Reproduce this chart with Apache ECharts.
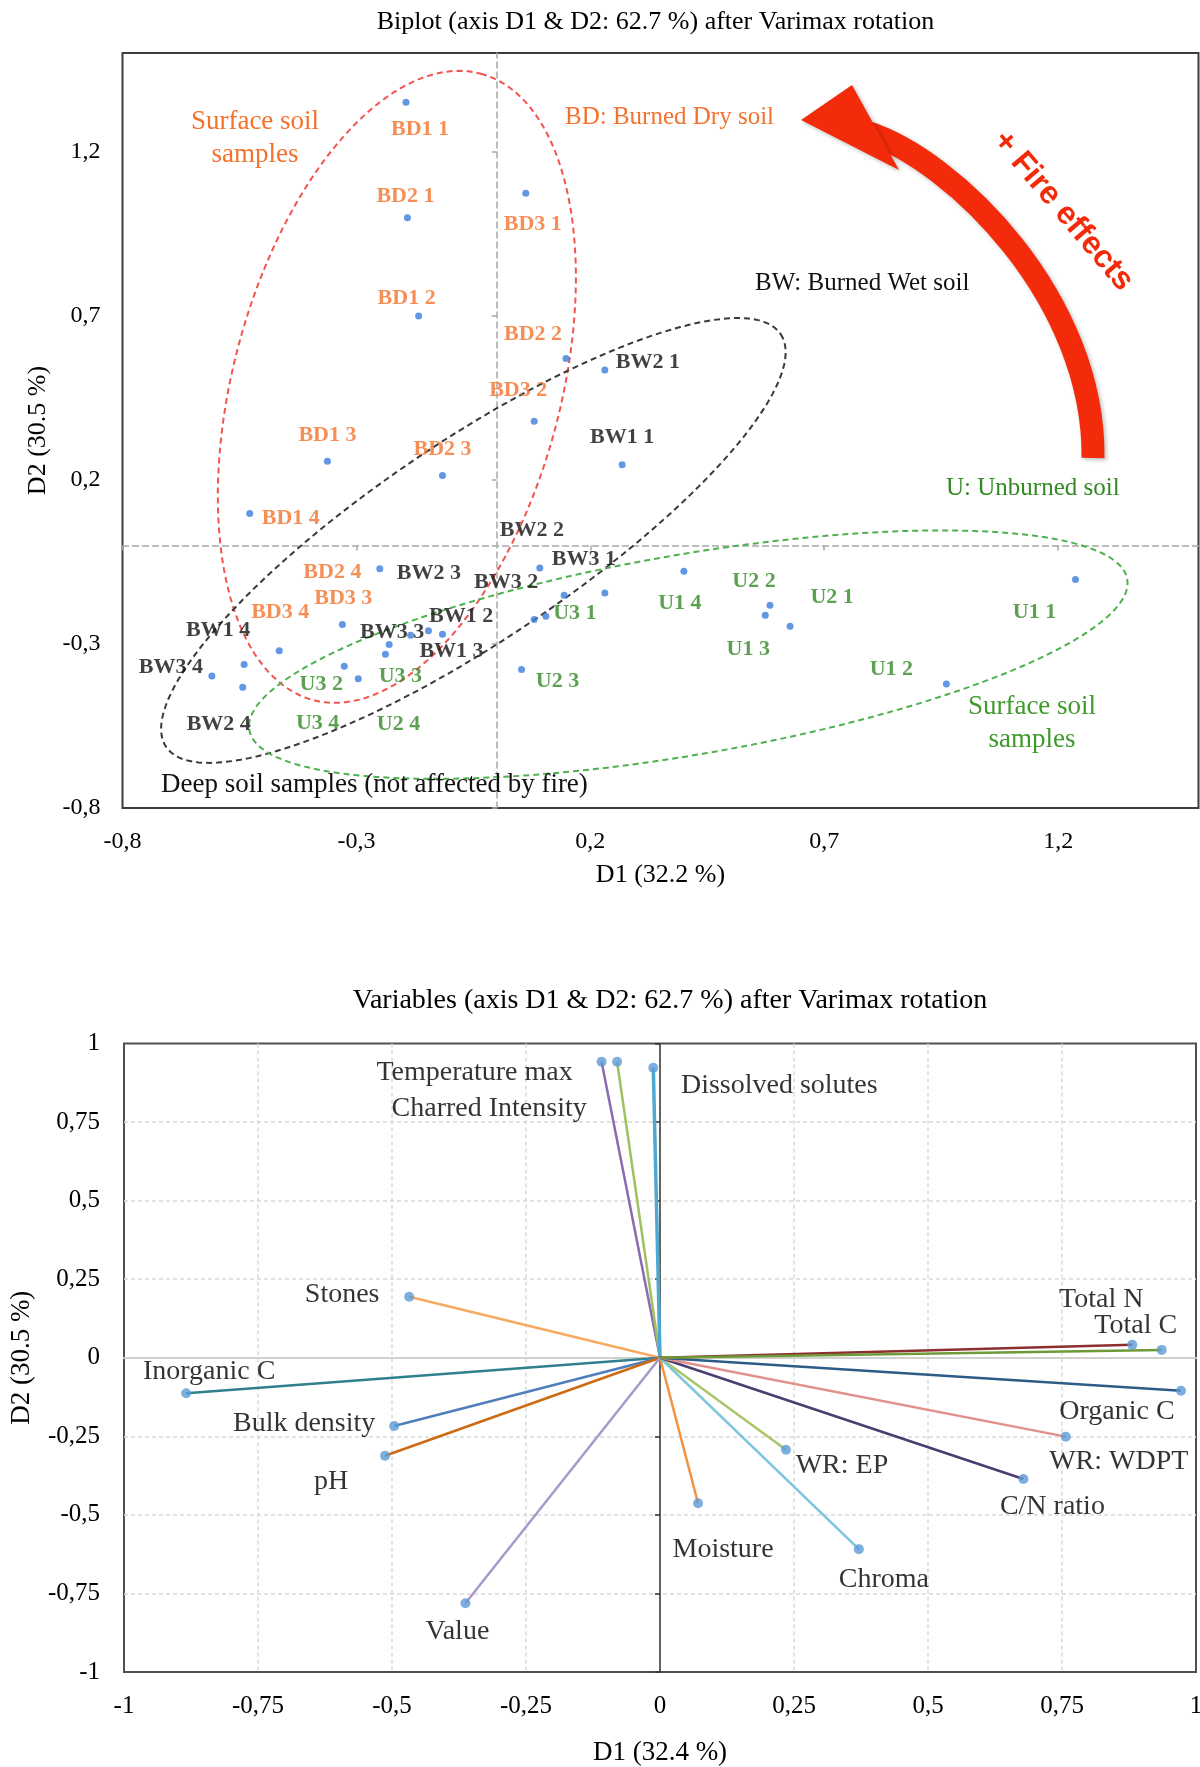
<!DOCTYPE html>
<html>
<head>
<meta charset="utf-8">
<script src="https://cdn.jsdelivr.net/npm/echarts@6/dist/echarts.min.js"></script>
<style>html,body{margin:0;padding:0;background:#fff}#c{width:1200px;height:1767px}</style>
</head>
<body>
<div id="c"></div>
<script>
// ---------- Biplot: sample scores (D1, D2) ----------
const bdNames = ['BD1 1','BD2 1','BD3 1','BD1 2','BD2 2','BD3 2','BD1 3','BD2 3','BD3 3','BD1 4','BD2 4','BD3 4'];
const bdD1    = [-0.194,-0.191, 0.062,-0.167, 0.148, 0.080,-0.362,-0.116,-0.326,-0.528,-0.330,-0.465];
const bdD2    = [ 1.350, 0.998, 1.073, 0.699, 0.569, 0.378, 0.256, 0.213,-0.368, 0.097,-0.241,-0.321];

const bwNames = ['BW1 1','BW2 1','BW1 2','BW2 2','BW3 1','BW3 2','BW1 3','BW2 3','BW3 3','BW1 4','BW2 4','BW3 4'];
const bwD1    = [ 0.268, 0.231, 0.080, 0.092, 0.231, 0.144,-0.116,-0.250,-0.230,-0.540,-0.543,-0.609];
const bwD2    = [ 0.246, 0.534,-0.226,-0.069,-0.145,-0.152,-0.271,-0.071,-0.302,-0.363,-0.432,-0.398];

const uNames  = ['U1 1','U2 1','U3 1','U1 2','U2 2','U3 2','U1 3','U2 3','U3 3','U1 4','U2 4','U3 4'];
const uD1     = [ 1.237, 0.627, 0.105, 0.961, 0.584,-0.296, 0.574, 0.053,-0.238, 0.400,-0.146,-0.184];
const uD2     = [-0.104,-0.246,-0.216,-0.422,-0.182,-0.406,-0.213,-0.378,-0.332,-0.079,-0.260,-0.274];

const biplotTicks = [-0.8, -0.3, 0.2, 0.7, 1.2];

// ---------- Variables: loadings (D1, D2) ----------
const varNames = ['Temperature max','Charred Intensity','Dissolved solutes','Stones','Inorganic C','Bulk density','pH','Value','Moisture','WR: EP','Chroma','C/N ratio','WR: WDPT','Organic C','Total N','Total C'];
const varD1    = [-0.109,-0.080,-0.0125,-0.468,-0.884,-0.496,-0.513,-0.363, 0.071, 0.235, 0.371, 0.678, 0.757, 0.972, 0.881, 0.936];
const varD2    = [ 0.942, 0.942, 0.923, 0.194,-0.113,-0.217,-0.312,-0.781,-0.463,-0.293,-0.609,-0.386,-0.251,-0.105, 0.041, 0.025];

// ---------- Layout / style (kept apart from the data) ----------
const bdLabelOffsets = [[14,27],[-2,-21],[7,31],[-12,-18],[-33,-24],[-16,-31],[0,-26],[0,-26],[-1,-68],[41,5],[-10,-52],[1,-38]];
const bwLabelOffsets = [[0,-27],[43,-8],[-73,-3],[-8,-38],[-21,-34],[-58,-13],[9,17],[49,5],[3,-12],[-26,-34],[-24,37],[-41,-9]];
const uLabelOffsets  = [[-41,33],[42,-29],[29,-3],[-55,-15],[-16,-24],[-37,6],[-17,34],[36,12],[15,22],[-4,32],[-30,94],[-93,88]];
const varColors = ['#8a6bb0','#9fc160','#4fa8cf','#f7aa62','#2f7f8f','#4f7fba','#cd6a12','#a898cc','#f5923e','#a9c56a','#7cc6de','#4a3d70','#e0918c','#2d5c88','#8c2f2f','#6f9a3a'];
const varLabelOffsets = [[-127,11],[-128,47],[126,18],[-67,-2],[23,-22],[-90,-2],[-54,26],[-8,28],[25,46],[56,16],[25,31],[29,28],[53,25],[-64,21],[-31,-45],[-26,-24]];

// group ellipses (annotation outlines), centre + two conjugate semi-axes in data units
const groupEllipses = [
  {c:[-0.2135, 0.483], u:[0.1795, 0.954], v:[0.338,-0.129], color:'#f2544e'},
  {c:[-0.050, 0.015], u:[0.6568, 0.6289], v:[0.1192,-0.2523], color:'#3a3a3a'},
  {c:[ 0.4094,-0.3328], u:[0.9383, 0.2298], v:[0.0364,-0.3006], color:'#4fb04f'}
];

const FONT = 'Liberation Serif';
const ORANGE = '#f4722b', GREEN = '#338a25', BLACK = '#111';
const fmt = v => String(Math.round(v * 100) / 100).replace('.', ',');

function sampleSeries(names, d1, d2, offs, color) {
  return {
    type: 'scatter', xAxisIndex: 0, yAxisIndex: 0, symbolSize: 7, z: 5,
    itemStyle: {color: '#3b7ddd'},
    label: {show: true, position: 'inside', formatter: '{b}', color: color, fontFamily: FONT,
            fontWeight: 'bold', fontSize: 22, textBorderWidth: 0},
    data: names.map((n, i) => ({name: n, value: [d1[i], d2[i]], label: {offset: offs[i]}}))
  };
}

const varLineSeries = varNames.map((n, i) => ({
  type: 'line', name: n, xAxisIndex: 2, yAxisIndex: 2, showSymbol: false, z: 3,
  lineStyle: {color: varColors[i], width: i === 2 ? 3.5 : 2.5},
  data: [[0, 0], [varD1[i], varD2[i]]]
}));

const chart = echarts.init(document.getElementById('c'), null, {renderer: 'canvas'});
const option = {
  animation: false,
  backgroundColor: '#fff',
  grid: [
    {left: 122.5, right: 1.5, top: 53, height: 755, show: true, borderColor: '#3c3c3c', borderWidth: 2, outerBoundsMode: 'none'},
    {left: 124, right: 4, top: 1043.5, height: 628.5, show: true, borderColor: '#505050', borderWidth: 2, outerBoundsMode: 'none'}
  ],
  xAxis: [
    {gridIndex: 0, type: 'value', min: -0.8, max: 1.5,
     axisLine: {show: false, onZero: false}, axisTick: {show: false}, splitLine: {show: false},
     axisLabel: {customValues: biplotTicks, formatter: fmt, fontFamily: FONT, fontSize: 24, color: '#000', margin: 22},
     name: 'D1 (32.2 %)', nameLocation: 'middle', nameGap: 54,
     nameTextStyle: {fontFamily: FONT, fontSize: 26, color: '#000'}},
    {gridIndex: 0, type: 'value', min: -0.8, max: 1.5, position: 'bottom',
     axisLine: {show: true, onZero: true, onZeroAxisIndex: 0, lineStyle: {color: '#a8a8a8', width: 1.5, type: [6, 4]}},
     axisTick: {show: true, customValues: biplotTicks, length: 5, lineStyle: {color: '#a8a8a8', width: 1.5}},
     axisLabel: {show: false}, splitLine: {show: false}},
    {gridIndex: 1, type: 'value', min: -1, max: 1, interval: 0.25,
     axisLine: {show: false, onZero: false}, axisTick: {show: false},
     splitLine: {show: true, showMinLine: false, showMaxLine: false, lineStyle: {color: '#d9d9d9', width: 1.5, type: [4, 3]}},
     axisLabel: {formatter: fmt, fontFamily: FONT, fontSize: 25, color: '#000', margin: 22},
     name: 'D1 (32.4 %)', nameLocation: 'middle', nameGap: 67,
     nameTextStyle: {fontFamily: FONT, fontSize: 27, color: '#000'}},
    {gridIndex: 1, type: 'value', min: -1, max: 1, interval: 0.25, position: 'bottom',
     axisLine: {show: true, onZero: true, onZeroAxisIndex: 2, lineStyle: {color: '#d0d0d0', width: 2}},
     axisTick: {show: false}, axisLabel: {show: false}, splitLine: {show: false}}
  ],
  yAxis: [
    {gridIndex: 0, type: 'value', min: -0.8, max: 1.5,
     axisLine: {show: false, onZero: false}, axisTick: {show: false}, splitLine: {show: false},
     axisLabel: {customValues: biplotTicks, formatter: fmt, fontFamily: FONT, fontSize: 24, color: '#000', margin: 22},
     name: 'D2 (30.5 %)', nameLocation: 'middle', nameGap: 68,
     nameTextStyle: {fontFamily: FONT, fontSize: 26, color: '#000'}},
    {gridIndex: 0, type: 'value', min: -0.8, max: 1.5, position: 'left',
     axisLine: {show: true, onZero: true, onZeroAxisIndex: 0, lineStyle: {color: '#a8a8a8', width: 1.5, type: [6, 4]}},
     axisTick: {show: true, customValues: biplotTicks, length: 5, lineStyle: {color: '#a8a8a8', width: 1.5}},
     axisLabel: {show: false}, splitLine: {show: false}},
    {gridIndex: 1, type: 'value', min: -1, max: 1, interval: 0.25,
     axisLine: {show: false, onZero: false}, axisTick: {show: false},
     splitLine: {show: true, showMinLine: false, showMaxLine: false, lineStyle: {color: '#d9d9d9', width: 1.5, type: [4, 3]}},
     axisLabel: {formatter: fmt, fontFamily: FONT, fontSize: 25, color: '#000', margin: 24},
     name: 'D2 (30.5 %)', nameLocation: 'middle', nameGap: 89,
     nameTextStyle: {fontFamily: FONT, fontSize: 27, color: '#000'}},
    {gridIndex: 1, type: 'value', min: -1, max: 1, interval: 0.25, position: 'left',
     axisLine: {show: true, onZero: true, onZeroAxisIndex: 2, lineStyle: {color: '#333', width: 1.5}},
     axisTick: {show: true, length: 5, lineStyle: {color: '#333', width: 1.5}},
     axisLabel: {show: false}, splitLine: {show: false}}
  ],
  series: [
    {
      type: 'custom', xAxisIndex: 0, yAxisIndex: 0, z: 4, silent: true,
      data: groupEllipses.map((e, i) => [e.c[0], e.c[1], i]),
      renderItem: (params, api) => {
        const e = groupEllipses[params.dataIndex];
        const pts = [];
        const N = 160;
        for (let k = 0; k < N; k++) {
          const t = 2 * Math.PI * k / N;
          const c = Math.cos(t), s = Math.sin(t);
          pts.push(api.coord([e.c[0] + e.u[0] * c + e.v[0] * s, e.c[1] + e.u[1] * c + e.v[1] * s]));
        }
        return {type: 'polygon', shape: {points: pts},
                style: {fill: 'none', stroke: e.color, lineWidth: 2, lineDash: [6, 4]}};
      }
    },
    sampleSeries(bdNames, bdD1, bdD2, bdLabelOffsets, ORANGE),
    sampleSeries(bwNames, bwD1, bwD2, bwLabelOffsets, BLACK),
    sampleSeries(uNames, uD1, uD2, uLabelOffsets, GREEN),
    ...varLineSeries,
    {
      type: 'scatter', xAxisIndex: 2, yAxisIndex: 2, symbolSize: 10, z: 6,
      itemStyle: {color: '#5b9bd5'},
      label: {show: true, position: 'inside', formatter: '{b}', color: '#000', fontFamily: FONT,
              fontSize: 28, textBorderWidth: 0},
      data: varNames.map((n, i) => ({name: n, value: [varD1[i], varD2[i]], label: {offset: varLabelOffsets[i]}}))
    }
  ],
  graphic: [
    {type: 'text', x: 655.5, y: 22.5, style: {text: 'Biplot (axis D1 & D2: 62.7 %) after Varimax rotation', fill: '#000', fontFamily: FONT, fontSize: 26, align: 'center', verticalAlign: 'middle'}},
    {type: 'text', x: 670, y: 1001, style: {text: 'Variables (axis D1 & D2: 62.7 %) after Varimax rotation', fill: '#000', fontFamily: FONT, fontSize: 28, align: 'center', verticalAlign: 'middle'}},
    {type: 'text', x: 255, y: 138, z: 10, style: {text: 'Surface soil\nsamples', fill: ORANGE, fontFamily: FONT, fontSize: 27, lineHeight: 33, align: 'center', verticalAlign: 'middle'}},
    {type: 'text', x: 565, y: 117, z: 10, style: {text: 'BD: Burned Dry soil', fill: ORANGE, fontFamily: FONT, fontSize: 25, align: 'left', verticalAlign: 'middle'}},
    {type: 'text', x: 755, y: 283, z: 10, style: {text: 'BW: Burned Wet soil', fill: BLACK, fontFamily: FONT, fontSize: 25, align: 'left', verticalAlign: 'middle'}},
    {type: 'text', x: 946, y: 488, z: 10, style: {text: 'U: Unburned soil', fill: GREEN, fontFamily: FONT, fontSize: 25, align: 'left', verticalAlign: 'middle'}},
    {type: 'text', x: 1032, y: 723, z: 10, style: {text: 'Surface soil\nsamples', fill: '#3f9a2c', fontFamily: FONT, fontSize: 27, lineHeight: 33, align: 'center', verticalAlign: 'middle'}},
    {type: 'text', x: 161, y: 785, z: 10, style: {text: 'Deep soil samples (not affected by fire)', fill: BLACK, fontFamily: FONT, fontSize: 27, align: 'left', verticalAlign: 'middle'}},
    {type: 'bezierCurve', z: 10, shape: {x1: 866, y1: 132, cpx1: 955, cpy1: 160, cpx2: 1095, cpy2: 300, x2: 1093, y2: 458},
     style: {stroke: '#f32b0a', lineWidth: 23, fill: null, shadowBlur: 4, shadowColor: 'rgba(0,0,0,0.25)', shadowOffsetX: 2, shadowOffsetY: 2}},
    {type: 'polygon', z: 11, shape: {points: [[801, 120], [852, 85], [899, 170]]},
     style: {fill: '#f32b0a', shadowBlur: 4, shadowColor: 'rgba(0,0,0,0.25)', shadowOffsetX: 2, shadowOffsetY: 2}},
    {type: 'text', x: 1063, y: 211, rotation: -0.867, z: 11, style: {text: '+ Fire effects', fill: '#f32b0a', fontFamily: 'Liberation Sans', fontWeight: 'bold', fontSize: 32, align: 'center', verticalAlign: 'middle'}}
  ]
};
chart.setOption(option);
</script>
</body>
</html>
